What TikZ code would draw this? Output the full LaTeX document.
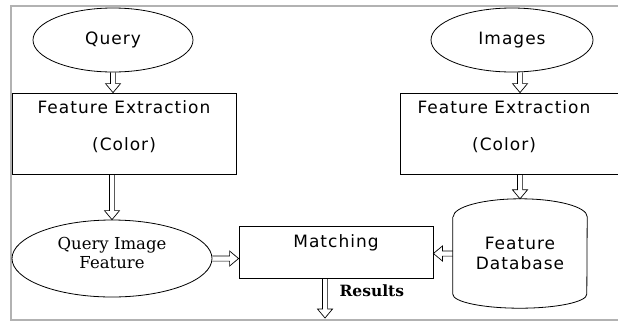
\documentclass[tikz,border=0pt]{standalone}
\usepackage{fontspec}
\setmainfont{DejaVu Sans}[LetterSpace=6]
\newfontfamily\oldserif{DejaVu Serif}
\usetikzlibrary{calc,shapes.geometric}

\begin{document}
\begin{tikzpicture}[x=1pt,y=-1pt,
    font=\fontsize{17}{20}\selectfont,
    stage/.style={draw, line width=.8pt, minimum height=81pt},
    oval/.style={ellipse, draw, line width=.8pt, inner sep=0pt},
    flow/.style={line width=.7pt, to path={
      ($(\tikztostart)!2.6pt!90:(\tikztotarget)$)
      -- ($(\tikztotarget)!9pt!(\tikztostart)!2.6pt!90:(\tikztotarget)$)
      -- ($(\tikztotarget)!9pt!(\tikztostart)!7.5pt!90:(\tikztotarget)$)
      -- (\tikztotarget)
      -- ($(\tikztotarget)!9pt!(\tikztostart)!7.5pt!-90:(\tikztotarget)$)
      -- ($(\tikztotarget)!9pt!(\tikztostart)!2.6pt!-90:(\tikztotarget)$)
      -- ($(\tikztostart)!2.6pt!-90:(\tikztotarget)$)}}]
    \useasboundingbox (0,0) rectangle (618,322);
    % frame
    \draw[gray!60, line width=1.2pt] (618,6) -- (11,6) -- (11,320) -- (618,320);

    \node[oval, minimum width=160pt, minimum height=64pt] (query) at (113,40) {Query};
    \node[oval, minimum width=162pt, minimum height=64pt] (imgs) at (512,40) {Images};

    \node[stage, minimum width=224pt,
      label={[align=center,yshift=7pt]center:{Feature Extraction\\[17pt](Color)}}]
      (fel) at (124,133.5) {};
    \node[stage, minimum width=240pt,
      label={[align=center,xshift=-16pt,yshift=7pt]center:{Feature Extraction\\[17pt](Color)}}]
      (fer) at (520,133.5) {};

    \node[oval, minimum width=200pt, minimum height=77pt, align=center, text depth=12pt,
      font=\oldserif\fontsize{16.5}{19}\selectfont] (qif) at (112,258.5) {Query Image\\Feature};
    \node[draw, line width=.8pt, minimum width=194pt, minimum height=52pt,
      label={[yshift=9pt]center:Matching}] (match) at (336,252) {};

    % database drum
    \node[minimum width=134pt, minimum height=109pt, align=center] (db) at (520,253.5)
      {Feature\\Database};
    \begin{scope}[y=1pt]
      \draw[line width=.8pt] ([yshift=-18pt]db.north west) -- ([yshift=14pt]db.south west)
        arc[start angle=180, end angle=360, x radius=67pt, y radius=14pt]
        -- ([yshift=-18pt]db.north east)
        arc[start angle=0, end angle=180, x radius=67pt, y radius=18pt];
    \end{scope}

    \coordinate (res) at (325,318);
    \node[font=\oldserif\bfseries\fontsize{15.5}{18}\selectfont, anchor=west]
      (restxt) at (336,291) {Results};

    \draw[flow] (query.south) to (query.south |- fel.north);
    \draw[flow] (imgs.south -| fer.north) to (fer.north);
    \draw[flow] (fel.south -| qif.north) to (qif.north);
    \draw[flow] (fer.south) to (db.north);
    \draw[flow] (qif.east) to (qif.east -| match.west);
    \draw[flow] (db.west) to (db.west -| match.east);
    \draw[flow] (match.south -| res) to (res);
  \end{tikzpicture}
\end{document}
